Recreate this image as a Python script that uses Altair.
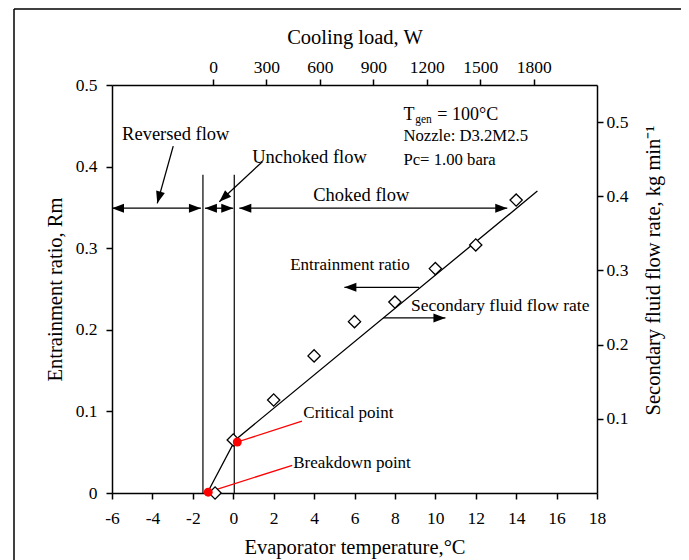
import math
import altair as alt
import pandas as pd

# ---------------- data ----------------
W, H = 485, 408
X_DOM = [-6, 18]
Y_DOM = [0, 0.5]
LOAD_DOM = [-567, 2155]
FLOW_DOM = [0, 0.55]

temp = [-0.9, 0, 2, 4, 6, 8, 10, 12, 14]
ratio = [0.0, 0.065, 0.114, 0.168, 0.21, 0.234, 0.275, 0.304, 0.359]

fit_x = [-1.2, 0.1, 15.05]
fit_y = [0.004, 0.065, 0.370]

red_x = [-1.24, 0.2]
red_y = [0.001, 0.0625]

vline_x = [-1.5, 0.05]
vline_top = 0.39

temp_ticks = list(range(-6, 19))
ratio_ticks = [0, 0.1, 0.2, 0.3, 0.4, 0.5]
load_ticks = [0, 300, 600, 900, 1200, 1500, 1800]
flow_ticks = [0.1, 0.2, 0.3, 0.4, 0.5]

# arrow segments: x1, y1, x2, y2
seg_x1 = [-6, -1.4, 0.3, -2.97, 1.44, 9.2, 7.43]
seg_y1 = [0.349, 0.349, 0.349, 0.425, 0.406, 0.252, 0.2145]
seg_x2 = [-1.6, 0.0, 13.56, -3.76, -0.69, 5.5, 10.5]
seg_y2 = [0.349, 0.349, 0.349, 0.355, 0.357, 0.252, 0.2145]

# arrow heads: tip x, tip y, from x, from y
head_tx = [-6, -1.6, -1.4, 0.0, 0.3, 13.56, -3.76, -0.69, 5.5, 10.5]
head_ty = [0.349, 0.349, 0.349, 0.349, 0.349, 0.349, 0.355, 0.357, 0.252, 0.2145]
head_fx = [-5, -2.6, -0.4, -1.0, 1.3, 12.56, -2.97, 1.44, 9.2, 7.43]
head_fy = [0.349, 0.349, 0.349, 0.349, 0.349, 0.349, 0.425, 0.406, 0.252, 0.2145]

# red leader lines
red_x1 = [0.2, -1.24]
red_y1 = [0.0625, 0.001]
red_x2 = [3.4, 2.92]
red_y2 = [0.088, 0.034]

# text annotations
txt_x = [-5.5, 0.94, 3.96, 8.42, 9.0, 10.1, 8.42, 8.42, 2.82, 8.8, 3.47, 2.97]
txt_y = [0.44, 0.412, 0.365, 0.463, 0.457, 0.463, 0.437, 0.408, 0.279, 0.229, 0.098, 0.037]
txt_s = ["Reversed flow", "Unchoked flow", "Choked flow", "T", "gen", "= 100°C",
         "Nozzle: D3.2M2.5", "Pc= 1.00 bara", "Entrainment ratio",
         "Secondary fluid flow rate", "Critical point", "Breakdown point"]
txt_f = [18.5, 18.5, 18.5, 18, 11.5, 18, 16.7, 16.7, 17, 17.5, 17, 17]

FONT = "Liberation Serif"

# ---------------- frames ----------------
kx = W / (X_DOM[1] - X_DOM[0])
ky = H / (Y_DOM[1] - Y_DOM[0])

pts = pd.DataFrame({"t": temp, "r": ratio})
fit = pd.DataFrame({"t": fit_x, "r": fit_y})
red = pd.DataFrame({"t": red_x, "r": red_y})
vl = pd.DataFrame({"t": vline_x, "y0": [0] * len(vline_x), "y1": [vline_top] * len(vline_x)})
segs = pd.DataFrame({"x1": seg_x1, "y1": seg_y1, "x2": seg_x2, "y2": seg_y2})
angles = []
for tx, ty, fx, fy in zip(head_tx, head_ty, head_fx, head_fy):
    dxp = (tx - fx) * kx
    dyp = -(ty - fy) * ky
    angles.append(math.degrees(math.atan2(dyp, dxp)) % 360)
heads = pd.DataFrame({"x": head_tx, "y": head_ty, "a": angles})
reds = pd.DataFrame({"x1": red_x1, "y1": red_y1, "x2": red_x2, "y2": red_y2})
txt = pd.DataFrame({"x": txt_x, "y": txt_y, "s": txt_s, "f": txt_f})

xs = alt.Scale(domain=X_DOM, nice=False, zero=False)
ys = alt.Scale(domain=Y_DOM, nice=False, zero=False)

axis_common = dict(domainColor="black", domainWidth=1.5, tickColor="black", tickWidth=1.5,
                   tickSize=6, labelFont=FONT, labelFontSize=17.5, labelColor="black",
                   titleFont=FONT, titleFontSize=20.5, titleColor="black", titleFontWeight="normal",
                   grid=False, labelFlush=False)

X = lambda f: alt.X(f, type="quantitative", scale=xs,
                    axis=alt.Axis(orient="bottom", values=temp_ticks,
                                  labelExpr="datum.value % 2 == 0 ? toString(datum.value) : ''",
                                  title="Evaporator temperature,°C", labelPadding=10, titlePadding=11,
                                  **axis_common))
Y = lambda f: alt.Y(f, type="quantitative", scale=ys,
                    axis=alt.Axis(orient="left", values=ratio_ticks, labelExpr="toString(datum.value)",
                                  title="Entrainment ratio, Rm", labelPadding=9, titlePadding=10,
                                  **axis_common))
Xn = lambda f: alt.X(f, type="quantitative", scale=xs)
Yn = lambda f: alt.Y(f, type="quantitative", scale=ys)

frame_df = pd.DataFrame({"k": [0]})
frame_top = alt.Chart(frame_df).mark_rule(color="black", strokeWidth=1.5).encode(
    x=alt.value(-98), x2=alt.value(600), y=alt.value(-76))
frame_left = alt.Chart(frame_df).mark_rule(color="black", strokeWidth=1.5).encode(
    x=alt.value(-98), y=alt.value(-76), y2=alt.value(520))

vlines = alt.Chart(vl).mark_rule(color="black", strokeWidth=1.2).encode(
    x=X("t"), y=Yn("y0"), y2="y1")
fitline = alt.Chart(fit).mark_line(color="black", strokeWidth=1.3).encode(
    x=Xn("t"), y=Y("r"))
diamonds = alt.Chart(pts).mark_point(shape="diamond", size=150, filled=True, fill="white",
                                     stroke="black", strokeWidth=1.3, opacity=1).encode(
    x=Xn("t"), y=Yn("r"))
seg_rules = alt.Chart(segs).mark_rule(color="black", strokeWidth=1.3).encode(
    x=Xn("x1"), y=Yn("y1"), x2="x2", y2="y2")
head_pts = alt.Chart(heads).mark_point(shape="M0,0L-2,-0.75L-2,0.75Z", size=144, filled=True,
                                       color="black", opacity=1).encode(
    x=Xn("x"), y=Yn("y"), angle=alt.Angle("a:Q", scale=None))
red_rules = alt.Chart(reds).mark_rule(color="#ff0000", strokeWidth=1.3).encode(
    x=Xn("x1"), y=Yn("y1"), x2="x2", y2="y2")
red_pts = alt.Chart(red).mark_point(shape="circle", size=80, filled=True, color="#ff0000",
                                    opacity=1).encode(x=Xn("t"), y=Yn("r"))
texts = alt.Chart(txt).mark_text(font=FONT, align="left", baseline="middle", color="black").encode(
    x=Xn("x"), y=Yn("y"), text="s:N", size=alt.Size("f:Q", scale=None))

main = alt.layer(frame_top, frame_left, vlines, fitline, seg_rules, head_pts, red_rules,
                 diamonds, red_pts, texts)

top_df = pd.DataFrame({"w": load_ticks})
top_axis = alt.Chart(top_df).mark_point(opacity=0).encode(
    x=alt.X("w:Q", scale=alt.Scale(domain=LOAD_DOM, nice=False, zero=False),
            axis=alt.Axis(orient="top", values=load_ticks, format="d", title="Cooling load, W",
                          labelPadding=3, titlePadding=11, **axis_common)),
    y=alt.value(0))

right_df = pd.DataFrame({"m": flow_ticks})
right_axis = alt.Chart(right_df).mark_point(opacity=0).encode(
    y=alt.Y("m:Q", scale=alt.Scale(domain=FLOW_DOM, nice=False, zero=False),
            axis=alt.Axis(orient="right", values=flow_ticks, labelExpr="toString(datum.value)",
                          title="Secondary fluid flow rate, kg  min⁻¹", titleAngle=270,
                          titleBaseline="top", titleAlign="center", titleY=185,
                          labelPadding=3, titlePadding=16, **axis_common)),
    x=alt.value(0))

chart = alt.layer(main, top_axis, right_axis).resolve_scale(
    x="independent", y="independent"
).properties(
    width=W, height=H,
    padding={"left": 104, "top": 77, "right": 84, "bottom": 67},
    autosize=alt.AutoSizeParams(type="none"),
    background="white",
).configure_view(stroke=None)

chart.save("out.html", embed_options={"renderer": "svg", "actions": False})
